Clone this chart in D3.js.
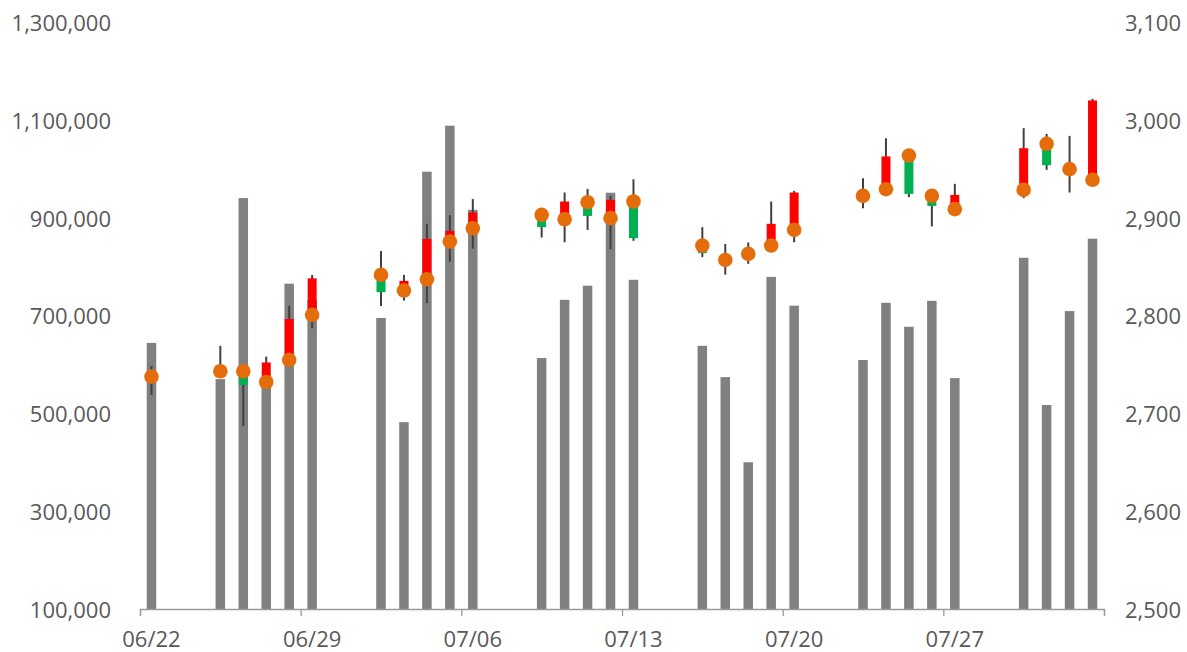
<!DOCTYPE html>
<html>
<head>
<meta charset="utf-8">
<script src="https://cdn.jsdelivr.net/npm/d3@7"></script>
<style>
  html, body { margin: 0; padding: 0; background: #fff; }
  svg text { font-family: "Open Sans", "Noto Sans", sans-serif; fill: #595959; }
</style>
</head>
<body>
<svg id="chart" width="1187" height="652"></svg>
<script>
// Trading days (MM/DD) and daily figures
const dates = ["06/22","06/25","06/26","06/27","06/28","06/29","07/02","07/03","07/04","07/05","07/06",
  "07/09","07/10","07/11","07/12","07/13","07/16","07/17","07/18","07/19","07/20",
  "07/23","07/24","07/25","07/26","07/27","07/30","07/31","08/01","08/02"];

const volume = [644000, 570000, 940000, 560000, 765000, 732000, 695000, 482000, 994000, 1088000, 916000,
  613000, 732000, 761000, 951000, 773000, 638000, 574000, 400000, 779000, 720000,
  609000, 726000, 677000, 730000, 572000, 818000, 517000, 709000, 857000];

const open  = [2737.5, 2743.0, 2743.0, 2732.0, 2754.6, 2800.6, 2841.5, 2825.5, 2837.0, 2875.6, 2889.2,
  2902.9, 2898.4, 2915.8, 2899.5, 2916.5, 2871.5, 2856.8, 2863.0, 2871.5, 2887.5,
  2922.3, 2929.1, 2963.5, 2922.3, 2908.7, 2928.4, 2975.5, 2949.6, 2938.7];
const high  = [2748.5, 2769.0, 2745.0, 2758.0, 2810.0, 2841.5, 2866.0, 2841.5, 2893.7, 2902.6, 2919.0,
  2906.0, 2925.7, 2929.4, 2922.3, 2939.3, 2890.3, 2873.2, 2874.6, 2916.5, 2927.4,
  2940.3, 2981.2, 2967.0, 2926.0, 2934.6, 2991.5, 2985.7, 2983.6, 3021.5];
const low   = [2718.8, 2740.0, 2687.0, 2728.0, 2750.0, 2787.0, 2809.8, 2815.2, 2812.6, 2855.0, 2868.4,
  2879.7, 2874.9, 2887.5, 2867.8, 2876.3, 2859.7, 2841.8, 2852.8, 2865.0, 2874.9,
  2909.7, 2923.0, 2921.0, 2891.0, 2903.0, 2920.0, 2948.9, 2925.7, 2932.0];
const close = [2736.0, 2745.0, 2729.0, 2752.0, 2796.5, 2838.0, 2823.8, 2835.4, 2878.3, 2886.5, 2905.2,
  2890.3, 2916.5, 2901.8, 2918.2, 2879.0, 2863.8, 2857.5, 2863.5, 2893.7, 2925.7,
  2923.0, 2962.6, 2924.3, 2912.0, 2923.3, 2971.0, 2953.6, 2950.0, 3019.8];

const volumeTicks = [100000, 300000, 500000, 700000, 900000, 1100000, 1300000];
const priceTicks  = [2500, 2600, 2700, 2800, 2900, 3000, 3100];
const dateTicks   = ["06/22", "06/29", "07/06", "07/13", "07/20", "07/27"];

const year = 2020;
const parse = s => d3.timeParse("%Y/%m/%d")(year + "/" + s);
const rows = dates.map((d, i) => ({
  date: parse(d), vol: volume[i], o: open[i], h: high[i], l: low[i], c: close[i]
}));

const svg = d3.select("#chart");
const plotLeft = 140, plotRight = 1104, plotTop = 22, plotBottom = 609;
const fontSize = 22;

const firstDay = parse("06/22");
const endDay = d3.timeDay.offset(parse("08/02"), 1);
const x = d3.scaleTime().domain([firstDay, endDay]).range([plotLeft, plotRight]);
const dayW = x(d3.timeDay.offset(firstDay, 1)) - x(firstDay);
const cx = d => x(d) + dayW / 2;

const yVol = d3.scaleLinear().domain([100000, 1300000]).range([plotBottom, plotTop]);
const yPx  = d3.scaleLinear().domain([2500, 3100]).range([plotBottom, plotTop]);

const fmt = d3.format(",");

// volume bars
const barW = 9.5;
svg.append("g").selectAll("rect").data(rows).join("rect")
  .attr("x", d => cx(d.date) - barW / 2)
  .attr("width", barW)
  .attr("y", d => yVol(d.vol))
  .attr("height", d => plotBottom - yVol(d.vol))
  .attr("fill", "#808080");

// bottom axis
const xAxis = d3.axisBottom(x)
  .tickValues(dateTicks.map(parse).concat([endDay]))
  .tickSize(7)
  .tickFormat("");
const gx = svg.append("g").attr("transform", `translate(0,${plotBottom})`).call(xAxis);
gx.select(".domain").attr("stroke", "#9a9a9a").attr("stroke-width", 1.3);
gx.selectAll(".tick line").attr("stroke", "#9a9a9a").attr("stroke-width", 1.3);
svg.append("g").selectAll("text").data(dateTicks).join("text")
  .attr("x", d => cx(parse(d)))
  .attr("y", 647)
  .attr("text-anchor", "middle")
  .attr("font-size", fontSize)
  .text(d => d);

// left axis labels
const yl = d3.axisLeft(yVol).tickValues(volumeTicks).tickFormat(fmt).tickSize(0).tickPadding(0);
const gyl = svg.append("g").attr("transform", "translate(111,0)").call(yl);
gyl.select(".domain").remove();
gyl.selectAll("text").attr("font-size", fontSize).attr("dy", "0.38em")
  .style("font-family", '"Open Sans", sans-serif').attr("fill", "#595959");

// right axis labels
const yr = d3.axisRight(yPx).tickValues(priceTicks).tickFormat(fmt).tickSize(0).tickPadding(0);
const gyr = svg.append("g").attr("transform", "translate(1125,0)").call(yr);
gyr.select(".domain").remove();
gyr.selectAll("text").attr("font-size", fontSize).attr("dy", "0.38em")
  .style("font-family", '"Open Sans", sans-serif').attr("fill", "#595959");

// candle wicks
svg.append("g").selectAll("line").data(rows).join("line")
  .attr("x1", d => cx(d.date)).attr("x2", d => cx(d.date))
  .attr("y1", d => yPx(d.h)).attr("y2", d => yPx(d.l))
  .attr("stroke", "#404040").attr("stroke-width", 2);

// candle bodies: red when closing higher, green when lower
const bodyW = 9;
svg.append("g").selectAll("rect").data(rows).join("rect")
  .attr("x", d => cx(d.date) - bodyW / 2)
  .attr("width", bodyW)
  .attr("y", d => yPx(Math.max(d.o, d.c)))
  .attr("height", d => Math.max(1, Math.abs(yPx(d.o) - yPx(d.c))))
  .attr("fill", d => d.c >= d.o ? "#ff0000" : "#00b050");

// opening price markers
svg.append("g").selectAll("circle").data(rows).join("circle")
  .attr("cx", d => cx(d.date))
  .attr("cy", d => yPx(d.o))
  .attr("r", 7.3)
  .attr("fill", "#e46c0a");
</script>
</body>
</html>
